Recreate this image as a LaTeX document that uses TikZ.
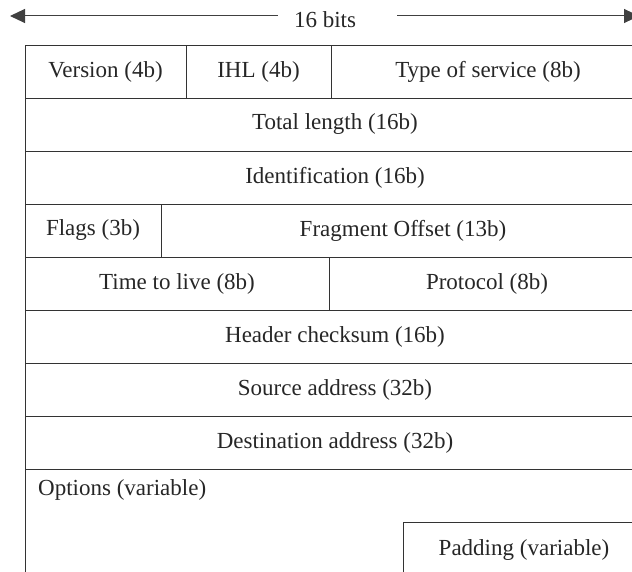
\documentclass[tikz,border=0pt]{standalone}
\usepackage{fontspec}
\setmainfont{Liberation Serif}
\usetikzlibrary{arrows.meta,positioning}

\tikzset{
  cell/.style={draw=black!80, line width=0.9pt, inner sep=0pt, outer sep=0pt,
    minimum height=53, font=\fontsize{23}{26}\selectfont, text=black!85},
  txt/.style={inner sep=0pt, font=\fontsize{23}{26}\selectfont, text=black!85},
  widtharrow/.style={draw=black!75, line width=1pt, -{Triangle[length=15,width=14]}},
}

\begin{document}
\begin{tikzpicture}[x=1pt,y=-1pt]
  \useasboundingbox (0,0) rectangle (632,572);
  \clip (0,0) rectangle (632,572);

  % width marker over the header
  \node[txt] (bits) at (325,20) {16 bits};
  \coordinate (bl) at (10,16);
  \coordinate (br) at (639,16);
  \draw[widtharrow] ([xshift=-16]bits.west |- bl) -- (bl);
  \draw[widtharrow] ([xshift=41]bits.east |- br) -- (br);

  % row 1
  \node[cell, minimum width=161, anchor=north west] (ver) at (25,45) {Version (4b)};
  \node[cell, minimum width=145, right=0pt of ver] (ihl) {IHL (4b)};
  \node[cell, minimum width=314, right=0pt of ihl] (tos) {Type of service (8b)};
  % rows 2-3
  \node[cell, minimum width=620, below right=0pt and 0pt of ver.south west] (totlen) {Total length (16b)};
  \node[cell, minimum width=620, below right=0pt and 0pt of totlen.south west] (ident) {Identification (16b)};
  % row 4
  \node[cell, minimum width=136, below right=0pt and 0pt of ident.south west] (flags) {Flags (3b)};
  \node[cell, minimum width=484, right=0pt of flags] (fragoff) {Fragment Offset (13b)};
  % row 5
  \node[cell, minimum width=304, below right=0pt and 0pt of flags.south west] (ttl) {Time to live (8b)};
  \node[cell, minimum width=316, right=0pt of ttl] (proto) {Protocol (8b)};
  % rows 6-8
  \node[cell, minimum width=620, below right=0pt and 0pt of ttl.south west] (chksum) {Header checksum (16b)};
  \node[cell, minimum width=620, below right=0pt and 0pt of chksum.south west] (src) {Source address (32b)};
  \node[cell, minimum width=620, below right=0pt and 0pt of src.south west] (dst) {Destination address (32b)};
  % options + padding
  \node[cell, minimum width=620, minimum height=120, below right=0pt and 0pt of dst.south west] (opts) {};
  \node[txt, anchor=west] (optstxt) at ([shift={(13,21)}]opts.north west) {Options (variable)};
  \node[cell, minimum width=242, minimum height=56, anchor=north west] (pad) at (403,522) {Padding (variable)};
\end{tikzpicture}
\end{document}
